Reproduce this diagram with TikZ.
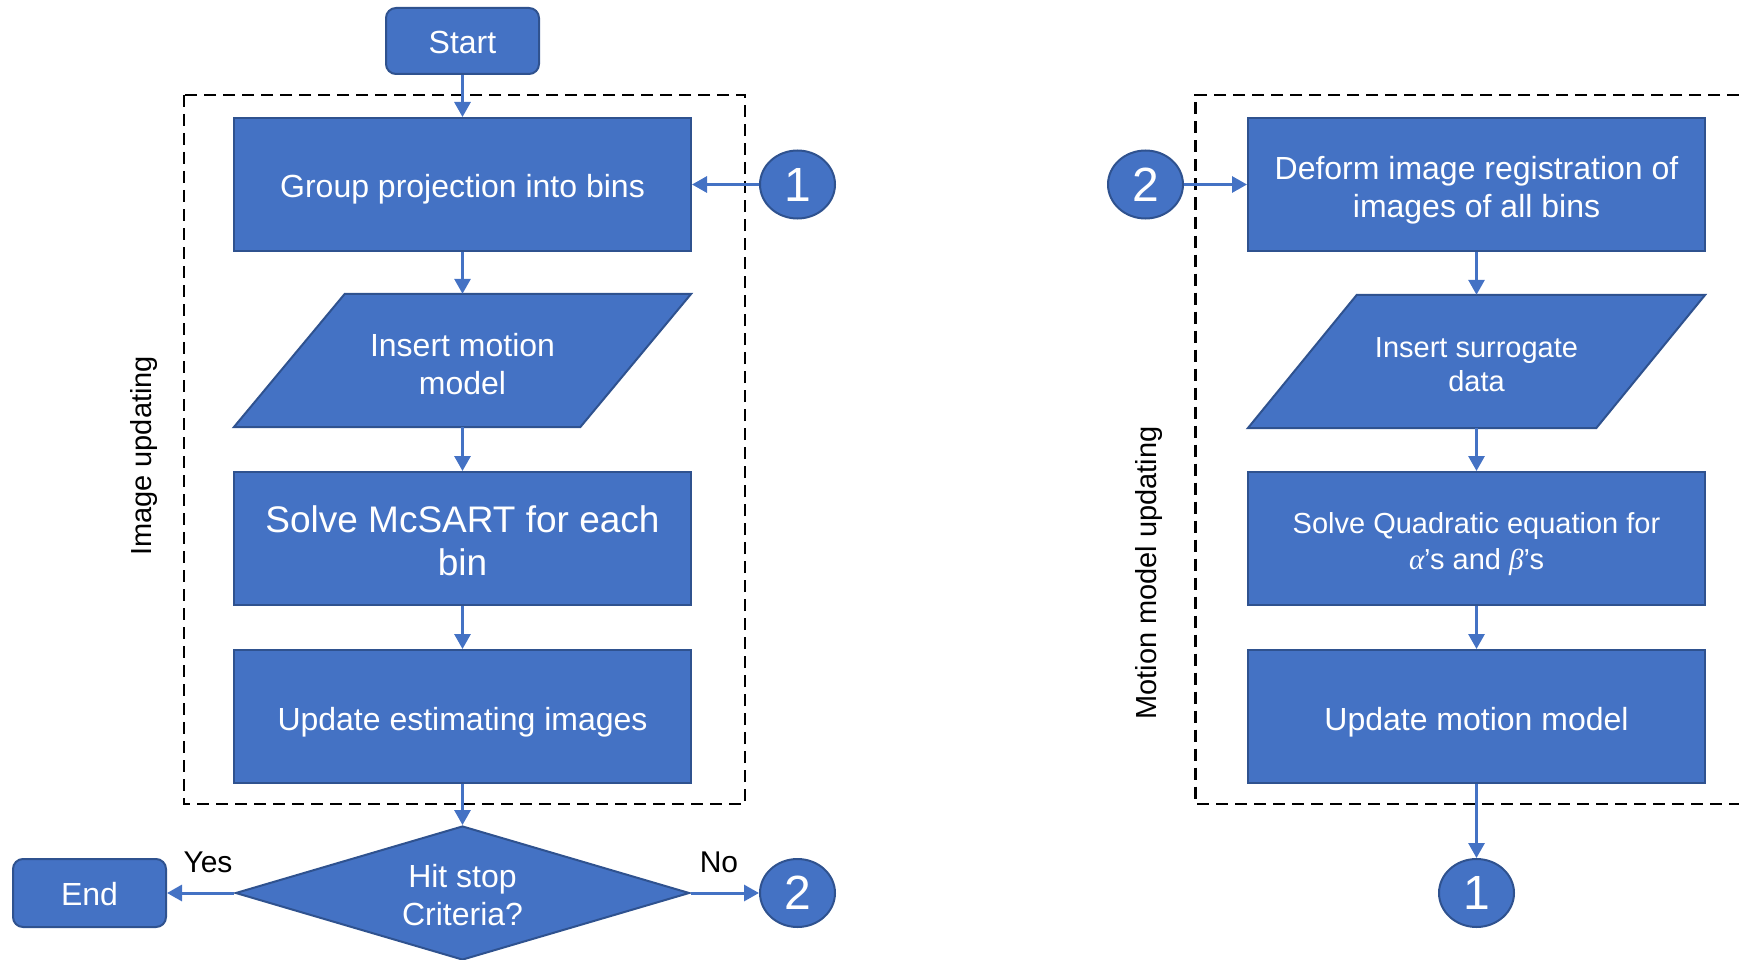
\documentclass[tikz,border=0pt]{standalone}
\usepackage{fontspec}
\setmainfont{Liberation Sans}
\newfontfamily\greekserif{Liberation Serif}
\usetikzlibrary{shapes.geometric,arrows.meta,backgrounds}

\definecolor{flowfill}{HTML}{4472C4}
\definecolor{flowedge}{HTML}{2F528F}

% a tall invisible strut on the first line lowers the text a little
\newcommand\dropstrut[1]{\rule{0pt}{#1}}

\tikzset{
  textdrop/.style={execute at begin node={\dropstrut{#1}}},
  procbox/.style={rectangle, draw=flowedge, line width=2pt, fill=flowfill,
    text=white, minimum width=457pt, minimum height=133pt, inner sep=0pt,
    align=center, font=\fontsize{32pt}{38pt}\selectfont},
  slanttext/.style={rectangle, minimum width=457pt, minimum height=133pt,
    inner sep=0pt, text=white, align=center},
  slantshape/.style={fill=flowfill, draw=flowedge, line width=2pt},
  termbox/.style={rectangle, rounded corners=10pt, draw=flowedge, line width=2pt,
    fill=flowfill, text=white, minimum width=153pt, inner sep=0pt,
    font=\fontsize{32pt}{38pt}\selectfont, textdrop=0.8em},
  decision/.style={diamond, aspect=3.39, draw=flowedge, line width=2pt,
    fill=flowfill, text=white, minimum width=454pt, minimum height=134pt,
    inner sep=0pt, align=center, font=\fontsize{32pt}{38pt}\selectfont},
  linkcircle/.style={ellipse, draw=flowedge, line width=2pt, fill=flowfill,
    text=white, minimum width=75pt, minimum height=68pt, inner sep=0pt,
    font=\fontsize{48pt}{48pt}\selectfont},
  flow/.style={draw=flowfill, line width=3pt,
    -{Triangle[length=15pt,width=16pt]}},
  groupframe/.style={draw=black, line width=2.5pt, dash pattern=on 12pt off 7pt},
  sidelabel/.style={text=black, inner sep=0pt, font=\fontsize{29pt}{35pt}\selectfont},
  branchlabel/.style={text=black, inner sep=0pt, font=\fontsize{30pt}{36pt}\selectfont},
}

\begin{document}
\begin{tikzpicture}[x=1pt, y=-1pt]
\useasboundingbox (0,0) rectangle (1739,960);

% dashed frames around the two loops
\draw[groupframe] (184,95) rectangle (745,804);
\draw[groupframe] (1739,95) -- (1195.5,95) -- (1195.5,804) -- (1739,804);

% image updating column
\node[termbox, minimum height=66pt] (start) at (462.5,41) {Start};
\node[procbox, textdrop=1.0em] (grp) at (462.5,184.5) {Group projection into bins};
\node[slanttext, font=\fontsize{32pt}{38pt}\selectfont] (ins1)
  at (462.5,360.5) {\dropstrut{0.94em}Insert motion\\model};
\node[procbox, font=\fontsize{37pt}{43pt}\selectfont] (solve)
  at (462.5,538.5) {\dropstrut{0.85em}Solve McSART for each\\bin};
\node[procbox, textdrop=1.07em] (upd) at (462.5,716.5) {Update estimating images};
\node[decision] (dec) at (462.5,893) {\dropstrut{0.87em}Hit stop\\Criteria?};
\node[termbox, minimum height=68pt] (end) at (89.5,893) {End};
\node[linkcircle] (c1a) at (797.5,184.5) {1};
\node[linkcircle] (c2a) at (797.5,893) {2};

% motion model updating column
\node[linkcircle] (c2b) at (1145.5,184.5) {2};
\node[procbox] (deform) at (1476.5,184.5)
  {\dropstrut{1.07em}Deform image registration of\\images of all bins};
\node[slanttext, font=\fontsize{29pt}{34pt}\selectfont] (ins2)
  at (1476.5,361.5) {\dropstrut{0.88em}Insert surrogate\\data};
\node[procbox, font=\fontsize{29pt}{36pt}\selectfont] (solveq)
  at (1476.5,538.5)
  {\dropstrut{1.14em}Solve Quadratic equation for\\{\greekserif\itshape α}’s and {\greekserif\itshape β}’s};
\node[procbox, textdrop=1.07em] (updm) at (1476.5,716.5) {Update motion model};
\node[linkcircle] (c1b) at (1476.5,893) {1};

% parallelogram outlines behind the input steps
\begin{scope}[on background layer]
  \path[slantshape] (ins1.south west) -- ([xshift=111pt]ins1.north west)
    -- (ins1.north east) -- ([xshift=-111pt]ins1.south east) -- cycle;
  \path[slantshape] (ins2.south west) -- ([xshift=109pt]ins2.north west)
    -- (ins2.north east) -- ([xshift=-109pt]ins2.south east) -- cycle;
\end{scope}

% side and branch labels
\node[sidelabel, rotate=90] (imglabel) at (144,456) {Image updating};
\node[sidelabel, rotate=90] (motlabel) at (1149,573) {Motion model updating};
\node[branchlabel] (yes) at (208,862) {Yes};
\node[branchlabel] (no) at (719,862) {No};

% connectors
\draw[flow] (start) -- (grp);
\draw[flow] (grp) -- (ins1);
\draw[flow] (ins1) -- (solve);
\draw[flow] (solve) -- (upd);
\draw[flow] (upd) -- (dec);
\draw[flow] (dec) -- (end);
\draw[flow] (dec) -- (c2a);
\draw[flow] (c1a) -- (grp);
\draw[flow] (c2b) -- (deform);
\draw[flow] (deform) -- (ins2);
\draw[flow] (ins2) -- (solveq);
\draw[flow] (solveq) -- (updm);
\draw[flow] (updm) -- (c1b);
\end{tikzpicture}
\end{document}
